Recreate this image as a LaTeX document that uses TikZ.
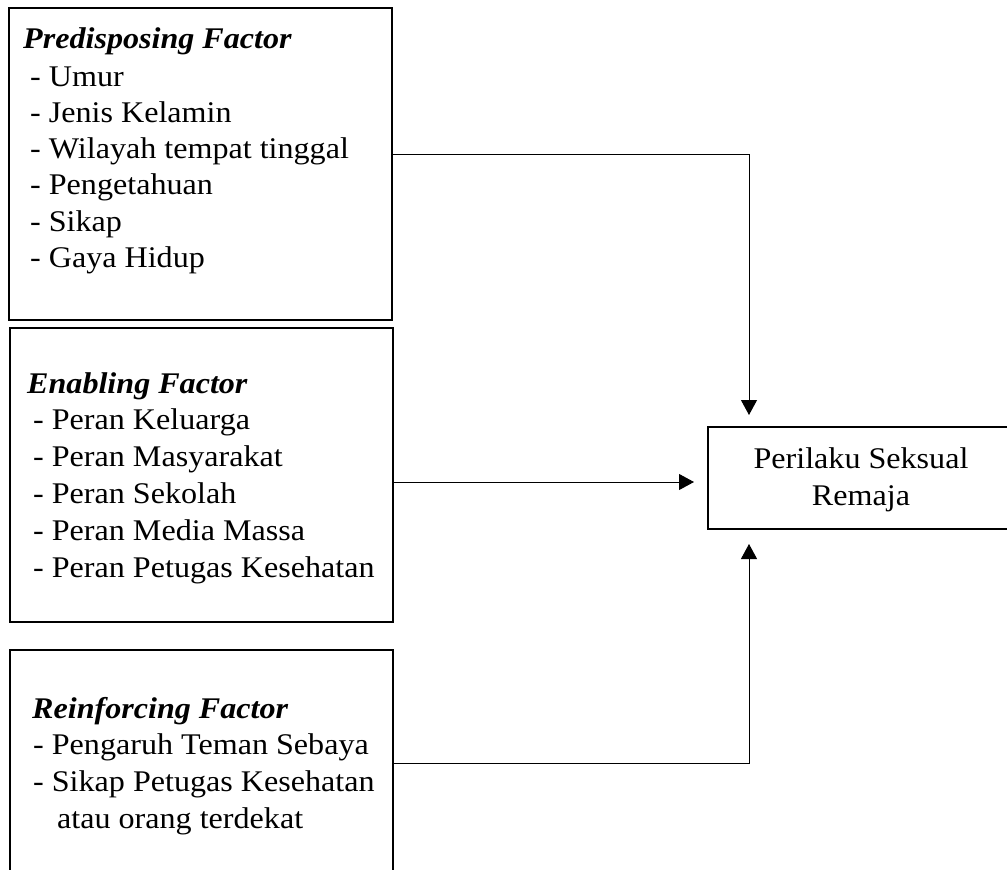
\documentclass[tikz,border=0pt]{standalone}
\usepackage{fontspec}
\setmainfont[FakeStretch=1.07]{Liberation Serif}
\usetikzlibrary{positioning,arrows.meta}

\begin{document}
\begin{tikzpicture}[x=1pt, y=-1pt,
  box/.style={draw, line width=2.8pt, rectangle, inner sep=0pt, outer sep=0pt},
  txt/.style={anchor=base west, inner sep=0pt, font=\fontsize{30}{36}\selectfont},
  head/.style={txt, font=\fontsize{30}{36}\selectfont\bfseries\itshape},
  conn/.style={line width=1pt, -{Triangle[length=15pt, width=16pt]}}]
\path[use as bounding box, clip] (0,0) rectangle (1007,870);

% boxes
\node[box, minimum width=383pt, minimum height=312pt] (pre) at (200.5,164) {};
\node[box, minimum width=383pt, minimum height=294pt] (ena) at (201.5,475) {};
\node[box, minimum width=383pt, minimum height=250pt] (rei) at (201.5,775) {};
\node[box, minimum width=306pt, minimum height=102pt] (per) at (861,478) {};

% predisposing
\node[head] (preh) at (23,48) {Predisposing Factor};
\node[txt] (pre1) at (30,86) {- Umur};
\node[txt] (pre2) at (30,122.3) {- Jenis Kelamin};
\node[txt] (pre3) at (30,158.6) {- Wilayah tempat tinggal};
\node[txt] (pre4) at (30,194.9) {- Pengetahuan};
\node[txt] (pre5) at (30,231.2) {- Sikap};
\node[txt] (pre6) at (30,267.5) {- Gaya Hidup};

% enabling
\node[head] (enah) at (27,393) {Enabling Factor};
\node[txt] (ena1) at (33,429) {- Peran Keluarga};
\node[txt] (ena2) at (33,466) {- Peran Masyarakat};
\node[txt] (ena3) at (33,503) {- Peran Sekolah};
\node[txt] (ena4) at (33,540) {- Peran Media Massa};
\node[txt] (ena5) at (33,577) {- Peran Petugas Kesehatan};

% reinforcing
\node[head] (reih) at (32,718) {Reinforcing Factor};
\node[txt] (rei1) at (33,754) {- Pengaruh Teman Sebaya};
\node[txt] (rei2) at (33,791) {- Sikap Petugas Kesehatan};
\node[txt] (rei3) at (57,828) {atau orang terdekat};

% outcome
\node[txt, anchor=base] (per1) at (861,468) {Perilaku Seksual};
\node[txt, anchor=base] (per2) at (861,505) {Remaja};

\draw[conn, shorten >=12pt] ([yshift=10pt]pre.east) -| ([xshift=41pt]per.north west);
\draw[conn, shorten >=14pt] ([yshift=-7pt]ena.east) -- ([yshift=-4pt]per.west);
\draw[conn, shorten >=15pt] ([yshift=12pt]rei.east) -| ([xshift=41pt]per.south west);
\end{tikzpicture}
\end{document}
